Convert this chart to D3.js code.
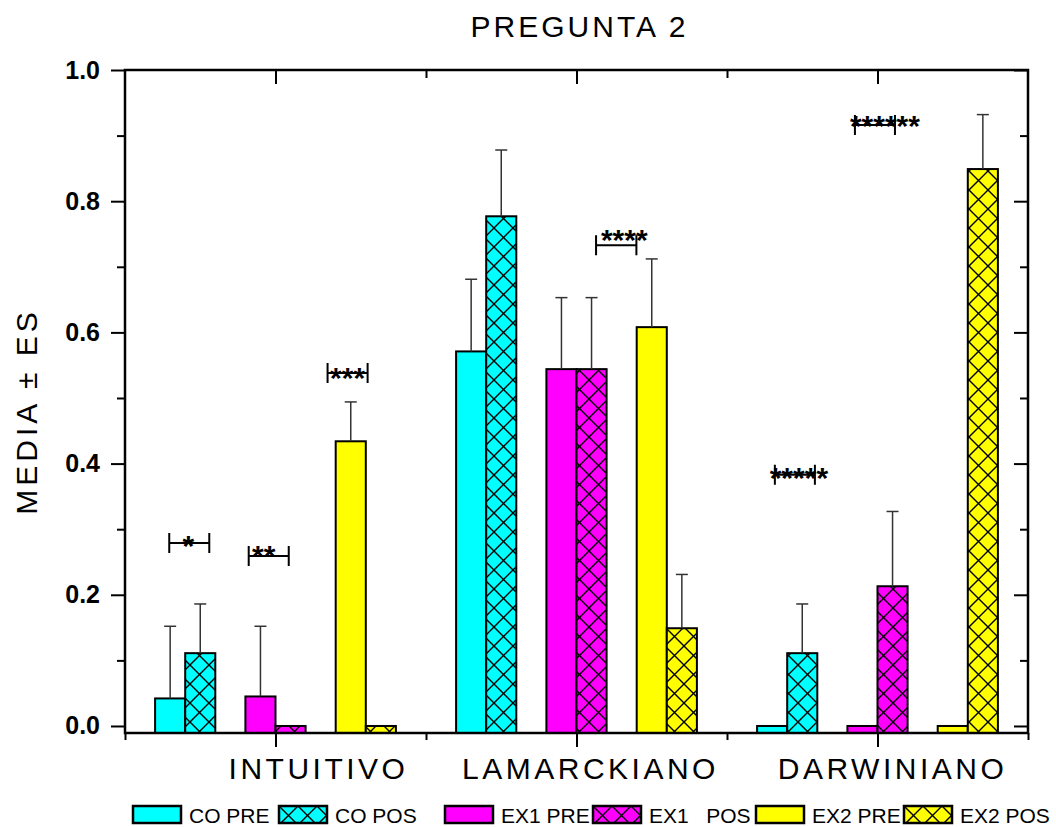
<!DOCTYPE html>
<html>
<head>
<meta charset="utf-8">
<script src="https://cdn.jsdelivr.net/npm/d3@7"></script>
<style>
  body { margin: 0; background: #fff; }
  svg { font-family: Arial, "Liberation Sans", sans-serif; }
</style>
</head>
<body>
<div id="chart-area"></div>
<script>
// categories on the x axis
const categories = ['INTUITIVO', 'LAMARCKIANO', 'DARWINIANO'];
// series names (legend order)
const seriesNames = ['CO PRE', 'CO POS', 'EX1 PRE', 'EX1   POS', 'EX2 PRE', 'EX2 POS'];

// means, one value per category
const coPre  = [0.042, 0.571, 0.000];
const coPos  = [0.111, 0.777, 0.111];
const ex1Pre = [0.045, 0.544, 0.000];
const ex1Pos = [0.000, 0.544, 0.213];
const ex2Pre = [0.434, 0.608, 0.000];
const ex2Pos = [0.000, 0.149, 0.849];

// standard errors
const coPreSE  = [0.110, 0.110, 0.000];
const coPosSE  = [0.075, 0.101, 0.075];
const ex1PreSE = [0.107, 0.109, 0.000];
const ex1PosSE = [0.000, 0.109, 0.114];
const ex2PreSE = [0.060, 0.104, 0.000];
const ex2PosSE = [0.000, 0.082, 0.083];

// significance brackets: [x1, x2] in axis units, height and label
const sigX1 = [0.647, 0.911, 1.173, 2.065, 2.659, 2.925];
const sigX2 = [0.780, 1.044, 1.306, 2.199, 2.792, 3.058];
const sigY  = [0.279, 0.259, 0.538, 0.733, 0.383, 0.916];
const sigLabels = ['*', '**', '***', '****', '*****', '******'];

const yTicks = [0, 0.2, 0.4, 0.6, 0.8, 1.0];

const means = [coPre, coPos, ex1Pre, ex1Pos, ex2Pre, ex2Pos];
const errors = [coPreSE, coPosSE, ex1PreSE, ex1PosSE, ex2PreSE, ex2PosSE];
const colors = ['#00ffff', '#00ffff', '#ff00ff', '#ff00ff', '#ffff00', '#ffff00'];
const hatched = [false, true, false, true, false, true];

const width = 1056, height = 827;
const plot = { left: 125, right: 1028, top: 70, bottom: 733 };

const svg = d3.select('#chart-area')
  .append('svg')
  .attr('width', width)
  .attr('height', height);

const x = d3.scaleLinear().domain([0.5, 3.5]).range([plot.left, plot.right]);
const y = d3.scaleLinear().domain([-0.0107, 1]).range([plot.bottom, plot.top]);

// hatch patterns
const defs = svg.append('defs');
['#00ffff', '#ff00ff', '#ffff00'].forEach((c, i) => {
  const p = defs.append('pattern')
    .attr('id', 'hatch' + i)
    .attr('patternUnits', 'userSpaceOnUse')
    .attr('width', 19)
    .attr('height', 19);
  p.append('rect').attr('width', 19).attr('height', 19).attr('fill', c);
  p.append('path')
    .attr('d', 'M0,0L19,19M19,0L0,19')
    .attr('stroke', '#000')
    .attr('stroke-width', 1.4);
});
const fillFor = (s) => hatched[s] ? `url(#hatch${Math.floor(s / 2)})` : colors[s];

// Title
svg.append('text')
  .attr('x', (plot.left + plot.right) / 2 + 3)
  .attr('y', 37)
  .attr('text-anchor', 'middle')
  .attr('font-size', '30px')
  .attr('letter-spacing', '3px')
  .text('PREGUNTA 2');

// Y label
svg.append('text')
  .attr('transform', `translate(37, ${(plot.top + plot.bottom) / 2 + 10}) rotate(-90)`)
  .attr('text-anchor', 'middle')
  .attr('font-size', '30px')
  .attr('letter-spacing', '4px')
  .text('MEDIA \u00b1 ES');

// bars
const barW = 0.1;
const barLeft = (i, s) => (i + 1) + (Math.floor(s / 2) - 1) * 0.3 - 0.1 + (s % 2) * barW;
const bars = [];
means.forEach((vals, s) => vals.forEach((v, i) => bars.push({ s, i, v, e: errors[s][i] })));

const gBars = svg.append('g');
gBars.selectAll('rect')
  .data(bars)
  .enter().append('rect')
  .attr('x', d => x(barLeft(d.i, d.s)))
  .attr('width', x(barW) - x(0))
  .attr('y', d => y(d.v))
  .attr('height', d => y(y.domain()[0]) - y(d.v))
  .attr('fill', d => fillFor(d.s))
  .attr('stroke', '#000')
  .attr('stroke-width', 2);

// error bars (upper only)
const gErr = svg.append('g').attr('stroke', '#333').attr('stroke-width', 1.5);
const errData = bars.filter(d => d.e > 0);
gErr.selectAll('.stem')
  .data(errData)
  .enter().append('line')
  .attr('x1', d => x(barLeft(d.i, d.s) + barW / 2))
  .attr('x2', d => x(barLeft(d.i, d.s) + barW / 2))
  .attr('y1', d => y(d.v))
  .attr('y2', d => y(d.v + d.e));
gErr.selectAll('.cap')
  .data(errData)
  .enter().append('line')
  .attr('x1', d => x(barLeft(d.i, d.s) + barW / 2) - 6)
  .attr('x2', d => x(barLeft(d.i, d.s) + barW / 2) + 6)
  .attr('y1', d => y(d.v + d.e))
  .attr('y2', d => y(d.v + d.e));

// axes
function styleAxis(g) {
  g.select('.domain').remove();
  g.selectAll('.tick line').attr('stroke', '#000').attr('stroke-width', 2);
  g.selectAll('.tick text').attr('fill', '#000');
}
const minorY = [0.1, 0.3, 0.5, 0.7, 0.9];

svg.append('g')
  .attr('transform', `translate(${plot.left},0)`)
  .call(d3.axisLeft(y).tickValues(yTicks).tickSize(14).tickPadding(11).tickFormat(d3.format('.1f')))
  .call(styleAxis)
  .call(g => g.selectAll('.tick text')
    .attr('font-size', '25px')
    .attr('font-weight', 'bold')
    .attr('font-family', 'Arial, "Liberation Sans", sans-serif'));
svg.append('g')
  .attr('transform', `translate(${plot.left},0)`)
  .call(d3.axisLeft(y).tickValues(minorY).tickSize(8).tickFormat(''))
  .call(styleAxis);
svg.append('g')
  .attr('transform', `translate(${plot.right},0)`)
  .call(d3.axisRight(y).tickValues(yTicks).tickSize(-14).tickFormat(''))
  .call(styleAxis);
svg.append('g')
  .attr('transform', `translate(${plot.right},0)`)
  .call(d3.axisRight(y).tickValues(minorY).tickSize(-8).tickFormat(''))
  .call(styleAxis);
svg.append('g')
  .attr('transform', `translate(0,${plot.bottom})`)
  .call(d3.axisBottom(x).tickValues([1, 2, 3]).tickSize(14).tickFormat(''))
  .call(styleAxis);
svg.append('g')
  .attr('transform', `translate(0,${plot.bottom})`)
  .call(d3.axisBottom(x).tickValues([0.5, 1.5, 2.5, 3.5]).tickSize(7).tickFormat(''))
  .call(styleAxis);
svg.append('g')
  .attr('transform', `translate(0,${plot.top})`)
  .call(d3.axisTop(x).tickValues([1, 2, 3]).tickSize(-14).tickFormat(''))
  .call(styleAxis);
svg.append('g')
  .attr('transform', `translate(0,${plot.top})`)
  .call(d3.axisTop(x).tickValues([1.5, 2.5]).tickSize(-8).tickFormat(''))
  .call(styleAxis);

// frame
svg.append('rect')
  .attr('x', plot.left)
  .attr('y', plot.top)
  .attr('width', plot.right - plot.left)
  .attr('height', plot.bottom - plot.top)
  .attr('fill', 'none')
  .attr('stroke', '#000')
  .attr('stroke-width', 2.5);

// category labels
const catShift = [43, 14, 15];
svg.append('g').selectAll('text')
  .data(categories)
  .enter().append('text')
  .attr('x', (d, i) => x(i + 1) + catShift[i])
  .attr('y', 779)
  .attr('text-anchor', 'middle')
  .attr('font-size', '30px')
  .attr('letter-spacing', '3.5px')
  .text(d => d);

// significance brackets
const sig = sigLabels.map((t, k) => ({ t, x1: sigX1[k], x2: sigX2[k], v: sigY[k] }));
const labelDx = [-1, -5, 0, 8, 4, 10];
const labelDy = [13, 10, 15, 5, 13, 11];
const gSig = svg.append('g');
gSig.selectAll('.br')
  .data(sig)
  .enter().append('path')
  .attr('fill', 'none')
  .attr('stroke', '#000')
  .attr('stroke-width', 2)
  .attr('d', d => {
    const a = x(d.x1), b = x(d.x2), yy = y(d.v);
    return `M${a},${yy - 10}V${yy + 10}M${a},${yy}H${b}M${b},${yy - 10}V${yy + 10}`;
  });
gSig.selectAll('text')
  .data(sig)
  .enter().append('text')
  .attr('x', (d, k) => (x(d.x1) + x(d.x2)) / 2 + labelDx[k])
  .attr('y', (d, k) => y(d.v) + labelDy[k])
  .attr('text-anchor', 'middle')
  .attr('font-size', '30px')
  .attr('font-weight', 'bold')
  .text(d => d.t);

// legend
const legendX = [133, 279, 445, 593, 756, 904];
const legend = svg.append('g').selectAll('g')
  .data(seriesNames)
  .enter().append('g')
  .attr('transform', (d, s) => `translate(${legendX[s]},806)`);
legend.append('rect')
  .attr('width', 48)
  .attr('height', 17)
  .attr('fill', (d, s) => fillFor(s))
  .attr('stroke', '#000')
  .attr('stroke-width', 2.5);
legend.append('text')
  .attr('x', 56)
  .attr('y', 17)
  .attr('font-size', '21px')
  .style('white-space', 'pre')
  .text(d => d);
</script>
</body>
</html>
